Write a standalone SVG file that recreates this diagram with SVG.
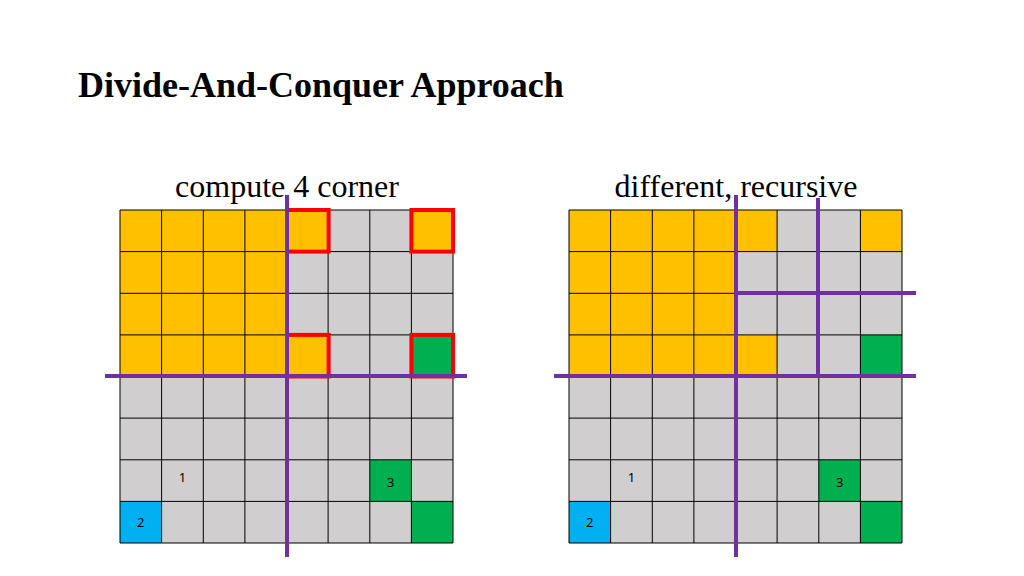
<svg xmlns="http://www.w3.org/2000/svg" width="1024" height="576" viewBox="0 0 1024 576">
<style>
.g{fill:#D0CECE}.o{fill:#FFC000}.gr{fill:#00B050}.b{fill:#00B0F0}
.grid{stroke:#000;stroke-width:1;fill:none}
.p{stroke:#7030A0;stroke-width:4}
.r{fill:none;stroke:#FF0000;stroke-width:4}
.t{font-family:"Liberation Serif",serif;fill:#000}
.n{font-family:"Noto Sans",sans-serif;font-size:13px;text-anchor:middle}
</style>
<rect width="1024" height="576" fill="#fff"/>
<text class="t" x="78" y="97" font-size="36" font-weight="bold">Divide-And-Conquer Approach</text>
<text class="t" x="287" y="197" font-size="32" text-anchor="middle">compute 4 corner</text>
<text class="t" x="736" y="197" font-size="32" text-anchor="middle">different, recursive</text>
<defs>
<g id="grid">
<rect class="g" x="0" y="0" width="333" height="333"/>
<rect class="o" x="0" y="0" width="166.5" height="166.5"/>
<rect class="o" x="166.5" y="0" width="41.6" height="41.6"/>
<rect class="o" x="291.4" y="0" width="41.6" height="41.6"/>
<rect class="o" x="166.5" y="124.9" width="41.6" height="41.6"/>
<rect class="gr" x="291.4" y="124.9" width="41.6" height="41.6"/>
<rect class="gr" x="249.8" y="249.8" width="41.6" height="41.6"/>
<rect class="gr" x="291.4" y="291.4" width="41.6" height="41.6"/>
<rect class="b" x="0" y="291.4" width="41.6" height="41.6"/>
<path class="grid" d="M0 0H333V333H0Z M41.6 0V333 M83.3 0V333 M124.9 0V333 M166.5 0V333 M208.1 0V333 M249.8 0V333 M291.4 0V333 M0 41.6H333 M0 83.3H333 M0 124.9H333 M0 166.5H333 M0 208.1H333 M0 249.8H333 M0 291.4H333"/>
<text class="n" x="62.4" y="272">1</text>
<text class="n" x="270.6" y="481" transform="translate(0,-204)">3</text>
<text class="n" x="20.8" y="317">2</text>
</g>
</defs>
<g id="left">
<use href="#grid" x="120" y="210"/>
<rect class="r" x="287" y="210" width="41.6" height="41.6"/>
<rect class="r" x="411.4" y="210" width="41.6" height="41.6"/>
<rect class="r" x="287" y="334.9" width="41.6" height="41.6"/>
<rect class="r" x="411.4" y="334.9" width="41.6" height="41.6"/>
</g>
<g id="right">
<use href="#grid" x="569" y="210"/>
</g>
<g id="connectors">
<line class="p" x1="287" y1="195" x2="287" y2="557"/>
<line class="p" x1="105" y1="376" x2="467" y2="376"/>
<line class="p" x1="736" y1="195" x2="736" y2="557"/>
<line class="p" x1="554" y1="376" x2="916" y2="376"/>
<line class="p" x1="818" y1="198" x2="818" y2="376"/>
<line class="p" x1="736" y1="293" x2="916" y2="293"/>
</g>
</svg>
